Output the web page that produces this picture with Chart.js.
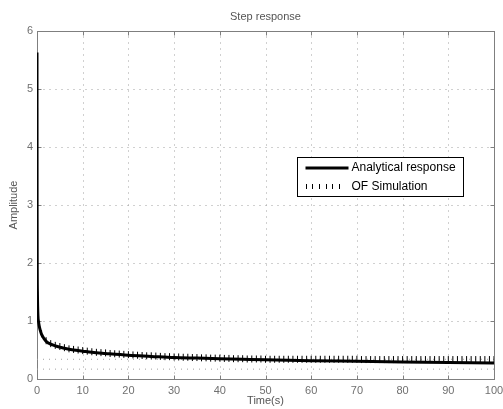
<!DOCTYPE html>
<html>
<head>
<meta charset="utf-8">
<script src="https://cdn.jsdelivr.net/npm/chart.js@4/dist/chart.umd.min.js"></script>
<style>
  html, body { margin: 0; padding: 0; background: #ffffff; }
  #wrap { width: 503px; height: 409px; position: relative; }
</style>
</head>
<body>
<div id="wrap"><canvas id="c" width="503" height="409"></canvas></div>
<script>
const FONT = "'Liberation Sans', Arial, Helvetica, sans-serif";

// Analytical step response (time in s, amplitude)
const timeAnalytical = [0, 0.02, 0.05, 0.1, 0.2, 0.35, 0.5, 0.75, 1, 1.5, 2, 3, 4, 5, 6, 8, 10, 12, 15, 20, 25, 30, 35, 40, 45, 50, 60, 70, 80, 90, 100];
const ampAnalytical  = [5.63, 3.0, 1.9, 1.45, 1.1, 0.98, 0.91, 0.83, 0.77, 0.7, 0.65, 0.6, 0.57, 0.55, 0.53, 0.5, 0.48, 0.46, 0.44, 0.41, 0.39, 0.37, 0.36, 0.35, 0.34, 0.33, 0.315, 0.305, 0.295, 0.285, 0.275];

// OF simulation samples
const timeSimulation = [0.1, 0.25, 0.5,
  1, 2, 3, 4, 5, 6, 7, 8, 9, 10,
  11, 12, 13, 14, 15, 16, 17, 18, 19, 20,
  21, 22, 23, 24, 25, 26, 27, 28, 29, 30,
  31, 32, 33, 34, 35, 36, 37, 38, 39, 40,
  41, 42, 43, 44, 45, 46, 47, 48, 49, 50,
  51, 52, 53, 54, 55, 56, 57, 58, 59, 60,
  61, 62, 63, 64, 65, 66, 67, 68, 69, 70,
  71, 72, 73, 74, 75, 76, 77, 78, 79, 80,
  81, 82, 83, 84, 85, 86, 87, 88, 89, 90,
  91, 92, 93, 94, 95, 96, 97, 98, 99, 100];
const ampSimulation = [1.3, 1.08, 0.93,
  0.78, 0.66, 0.61, 0.58, 0.56, 0.54, 0.52, 0.51, 0.5, 0.49,
  0.48, 0.47, 0.46, 0.455, 0.45, 0.44, 0.435, 0.43, 0.425, 0.42,
  0.415, 0.41, 0.405, 0.4, 0.4, 0.395, 0.39, 0.385, 0.385, 0.38,
  0.38, 0.375, 0.375, 0.37, 0.37, 0.365, 0.365, 0.36, 0.36, 0.36,
  0.355, 0.355, 0.35, 0.35, 0.35, 0.345, 0.345, 0.345, 0.345, 0.34,
  0.34, 0.34, 0.34, 0.34, 0.34, 0.34, 0.34, 0.34, 0.34, 0.34,
  0.34, 0.34, 0.34, 0.34, 0.34, 0.34, 0.34, 0.34, 0.34, 0.34,
  0.335, 0.335, 0.335, 0.335, 0.335, 0.335, 0.335, 0.335, 0.335, 0.335,
  0.335, 0.335, 0.335, 0.335, 0.335, 0.335, 0.335, 0.335, 0.335, 0.335,
  0.335, 0.335, 0.335, 0.335, 0.335, 0.335, 0.335, 0.335, 0.335, 0.335];

// Dotted horizontal reference levels
const levelLines = [0.34, 0.17];

const xTickValues = [0, 10, 20, 30, 40, 50, 60, 70, 80, 90, 100];
const yTickValues = [0, 1, 2, 3, 4, 5, 6];
const seriesNames = ['Analytical response', 'OF Simulation'];
const chartTitle = 'Step response';

const toPoints = (xs, ys) => xs.map((x, i) => ({ x: x, y: ys[i] }));

// Box, dotted grid and inward tick marks beneath the data; title and legend on top
const axesFrame = {
  id: 'axesFrame',
  beforeDatasetsDraw(chart) {
    const { ctx, chartArea: ca, scales } = chart;
    const sx = scales.x, sy = scales.y;
    const L = Math.round(ca.left) + 0.5, R = Math.round(ca.right) + 0.5;
    const T = Math.round(ca.top) + 0.5, B = Math.round(ca.bottom) + 0.5;
    ctx.save();
    ctx.lineWidth = 1;
    ctx.strokeStyle = '#a0a0a0';
    ctx.setLineDash([1, 5]);
    xTickValues.slice(1, -1).forEach(v => {
      const px = Math.round(sx.getPixelForValue(v)) + 0.5;
      ctx.beginPath(); ctx.moveTo(px, B); ctx.lineTo(px, T); ctx.stroke();
    });
    yTickValues.slice(1, -1).forEach(v => {
      const py = Math.round(sy.getPixelForValue(v)) + 0.5;
      ctx.beginPath(); ctx.moveTo(L, py); ctx.lineTo(R, py); ctx.stroke();
    });
    ctx.setLineDash([]);
    ctx.strokeStyle = '#7f7f7f';
    ctx.strokeRect(L, T, R - L, B - T);
    const tl = 4;
    ctx.beginPath();
    xTickValues.forEach(v => {
      const px = Math.round(sx.getPixelForValue(v)) + 0.5;
      ctx.moveTo(px, B); ctx.lineTo(px, B - tl);
      ctx.moveTo(px, T); ctx.lineTo(px, T + tl);
    });
    yTickValues.forEach(v => {
      const py = Math.round(sy.getPixelForValue(v)) + 0.5;
      ctx.moveTo(L, py); ctx.lineTo(L + tl, py);
      ctx.moveTo(R, py); ctx.lineTo(R - tl, py);
    });
    ctx.stroke();
    ctx.restore();
  },
  afterDatasetsDraw(chart) {
    const { ctx, chartArea: ca } = chart;
    ctx.save();
    // Title centred over the plot box
    ctx.fillStyle = '#555555';
    ctx.font = '11px ' + FONT;
    ctx.textAlign = 'center';
    ctx.textBaseline = 'middle';
    ctx.fillText(chartTitle, (ca.left + ca.right) / 2, ca.top - 14);

    // Legend box inside the plot
    const lx = Math.round(ca.right - 197) + 0.5;
    const ly = Math.round(ca.top + 126) + 0.5;
    const w = 166, h = 39;
    ctx.fillStyle = '#ffffff';
    ctx.fillRect(lx, ly, w, h);
    ctx.strokeStyle = '#000000';
    ctx.lineWidth = 1;
    ctx.strokeRect(lx, ly, w, h);
    const row1 = ly + 10.5, row2 = ly + 29;
    ctx.lineWidth = 3;
    ctx.beginPath(); ctx.moveTo(lx + 8, row1); ctx.lineTo(lx + 51, row1); ctx.stroke();
    ctx.lineWidth = 1;
    ctx.beginPath();
    for (let i = 0; i < 6; i++) {
      const tx = Math.round(lx + 8 + i * 6.7) + 0.5;
      ctx.moveTo(tx, row2 - 2.5); ctx.lineTo(tx, row2 + 2.5);
    }
    ctx.stroke();
    ctx.fillStyle = '#000000';
    ctx.font = '12px ' + FONT;
    ctx.textAlign = 'left';
    ctx.fillText(seriesNames[0], lx + 54, row1);
    ctx.fillText(seriesNames[1], lx + 54, row2);
    ctx.restore();
  }
};

const datasets = [
  {
    label: seriesNames[0],
    data: toPoints(timeAnalytical, ampAnalytical),
    borderColor: '#000000',
    borderWidth: 3,
    pointRadius: 0,
    cubicInterpolationMode: 'monotone',
    order: 2
  },
  {
    label: seriesNames[1],
    data: toPoints(timeSimulation, ampSimulation),
    showLine: false,
    pointStyle: 'line',
    rotation: 90,
    pointRadius: 3.5,
    pointBorderWidth: 1,
    pointBorderColor: '#000000',
    order: 1
  }
];
levelLines.forEach(v => {
  datasets.push({
    label: 'level ' + v,
    data: toPoints([0, 100], [v, v]),
    borderColor: '#a0a0a0',
    borderWidth: 1,
    borderDash: [1, 5],
    pointRadius: 0,
    order: 3
  });
});

new Chart(document.getElementById('c'), {
  type: 'line',
  data: { datasets: datasets },
  options: {
    responsive: false,
    animation: false,
    devicePixelRatio: 1,
    layout: { padding: { left: 0, right: 9, top: 31, bottom: 0 } },
    plugins: {
      legend: { display: false },
      tooltip: { enabled: false },
      title: { display: false }
    },
    scales: {
      x: {
        type: 'linear',
        min: 0, max: 100,
        grid: { display: false, drawTicks: false },
        border: { display: false },
        afterBuildTicks: s => { s.ticks = xTickValues.map(v => ({ value: v })); },
        afterFit: s => { s.height = 30; s.paddingLeft = 0; s.paddingRight = 0; },
        ticks: {
          color: '#707070',
          font: { family: FONT, size: 11 },
          padding: 5,
          maxRotation: 0,
          autoSkip: false
        },
        title: {
          display: true,
          text: 'Time(s)',
          color: '#555555',
          font: { family: FONT, size: 11 },
          padding: { top: 0, bottom: 1 }
        }
      },
      y: {
        type: 'linear',
        min: 0, max: 6,
        grid: { display: false, drawTicks: false },
        border: { display: false },
        afterBuildTicks: s => { s.ticks = yTickValues.map(v => ({ value: v })); },
        afterFit: s => { s.width = 37; s.paddingTop = 0; s.paddingBottom = 0; },
        ticks: {
          color: '#707070',
          font: { family: FONT, size: 11 },
          padding: 4,
          autoSkip: false
        },
        title: {
          display: true,
          text: 'Amplitude',
          color: '#555555',
          font: { family: FONT, size: 11 },
          padding: { top: 7, bottom: 0 }
        }
      }
    }
  },
  plugins: [axesFrame]
});
</script>
</body>
</html>
